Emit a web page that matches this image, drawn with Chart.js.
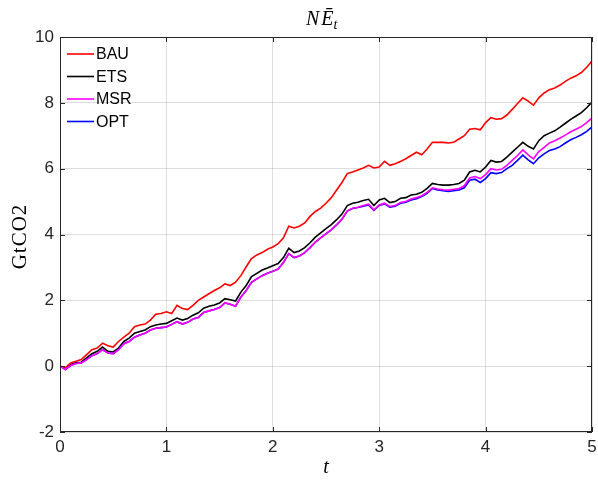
<!DOCTYPE html>
<html>
<head>
<meta charset="utf-8">
<script src="https://cdn.jsdelivr.net/npm/chart.js@4"></script>
<style>
  body { margin: 0; background: #fff; }
  #wrap { width: 598px; height: 480px; }
</style>
</head>
<body>
<div id="wrap"><canvas id="chart" width="598" height="480"></canvas></div>
<script>
// time grid, step 0.05
let tValues = []
for (let i = 0; i <= 100; ++i) tValues.push(+(i * 0.05).toFixed(2))

let seriesNames = ["BAU", "ETS", "MSR", "OPT"]
let seriesColors = ["#ff0000", "#000000", "#ff00ff", "#0000ff"]

let bau = [0.0, -0.05, 0.1, 0.15, 0.2, 0.35, 0.5, 0.55, 0.7, 0.62,
	0.58, 0.75, 0.88, 1.0, 1.2, 1.25, 1.28, 1.4, 1.58, 1.6,
	1.65, 1.6, 1.85, 1.75, 1.72, 1.85, 2.0, 2.1, 2.2, 2.3,
	2.38, 2.5, 2.45, 2.55, 2.75, 3.02, 3.27, 3.38, 3.45, 3.55,
	3.62, 3.72, 3.9, 4.25, 4.2, 4.25, 4.35, 4.55, 4.7, 4.8,
	4.95, 5.12, 5.35, 5.58, 5.85, 5.9, 5.96, 6.02, 6.1, 6.02,
	6.05, 6.22, 6.1, 6.15, 6.22, 6.3, 6.4, 6.5, 6.42, 6.6,
	6.8, 6.8, 6.8, 6.78, 6.8, 6.9, 7.0, 7.2, 7.22, 7.18,
	7.4, 7.55, 7.5, 7.52, 7.63, 7.8, 7.98, 8.15, 8.05, 7.93,
	8.15, 8.3, 8.4, 8.45, 8.54, 8.65, 8.75, 8.82, 8.92, 9.08,
	9.27]

let ets = [0.0, -0.08, 0.05, 0.1, 0.12, 0.25, 0.38, 0.45, 0.58, 0.45,
	0.43, 0.55, 0.75, 0.85, 1.0, 1.05, 1.1, 1.2, 1.25, 1.28,
	1.3, 1.38, 1.46, 1.4, 1.45, 1.55, 1.62, 1.76, 1.82, 1.86,
	1.92, 2.05, 2.02, 1.98, 2.25, 2.45, 2.72, 2.82, 2.92, 2.98,
	3.05, 3.12, 3.3, 3.58, 3.45, 3.5, 3.6, 3.75, 3.92, 4.05,
	4.18, 4.3, 4.45, 4.62, 4.88, 4.95, 4.98, 5.03, 5.07, 4.88,
	5.05, 5.1, 4.97, 5.0, 5.1, 5.12, 5.2, 5.22, 5.28, 5.4,
	5.55, 5.52, 5.5, 5.5, 5.52, 5.55, 5.65, 5.9, 5.95, 5.9,
	6.05, 6.25, 6.2, 6.22, 6.35, 6.5, 6.65, 6.8, 6.68, 6.6,
	6.85, 7.0, 7.08, 7.15, 7.26, 7.38, 7.5, 7.6, 7.7, 7.85,
	8.02]

let msr = [0.0, -0.1, 0.02, 0.08, 0.1, 0.2, 0.32, 0.38, 0.5, 0.4,
	0.38, 0.5, 0.68, 0.75, 0.88, 0.95, 1.0, 1.1, 1.15, 1.17,
	1.19, 1.27, 1.35, 1.28, 1.33, 1.43, 1.48, 1.63, 1.68, 1.72,
	1.78, 1.92, 1.88, 1.82, 2.1, 2.3, 2.55, 2.65, 2.75, 2.82,
	2.88, 2.95, 3.15, 3.42, 3.3, 3.35, 3.45, 3.6, 3.77, 3.9,
	4.03, 4.15, 4.3, 4.47, 4.72, 4.8, 4.83, 4.88, 4.92, 4.75,
	4.9, 4.95, 4.85, 4.88, 4.97, 5.0, 5.08, 5.12, 5.18, 5.28,
	5.42, 5.38, 5.36, 5.35, 5.37, 5.4, 5.48, 5.72, 5.76, 5.7,
	5.82, 6.0, 5.96, 5.98, 6.1, 6.25, 6.4, 6.57, 6.42, 6.3,
	6.52, 6.65, 6.78, 6.85, 6.93, 7.02, 7.12, 7.2, 7.28, 7.4,
	7.54]

let opt = [0.0, -0.1, 0.02, 0.08, 0.1, 0.2, 0.32, 0.38, 0.5, 0.4,
	0.38, 0.5, 0.68, 0.75, 0.88, 0.95, 1.0, 1.1, 1.15, 1.17,
	1.19, 1.27, 1.35, 1.28, 1.33, 1.43, 1.48, 1.63, 1.68, 1.72,
	1.78, 1.92, 1.88, 1.82, 2.1, 2.3, 2.55, 2.65, 2.75, 2.82,
	2.88, 2.95, 3.15, 3.42, 3.3, 3.35, 3.45, 3.6, 3.77, 3.9,
	4.02, 4.14, 4.29, 4.46, 4.71, 4.79, 4.82, 4.86, 4.9, 4.73,
	4.88, 4.93, 4.83, 4.86, 4.95, 4.98, 5.05, 5.09, 5.15, 5.25,
	5.4, 5.35, 5.33, 5.31, 5.33, 5.35, 5.42, 5.65, 5.68, 5.58,
	5.7, 5.88, 5.85, 5.88, 6.0, 6.1, 6.25, 6.41, 6.27, 6.15,
	6.33, 6.45, 6.55, 6.6, 6.67, 6.78, 6.88, 6.95, 7.03, 7.13,
	7.27]

let xTicks = [0, 1, 2, 3, 4, 5]
let yTicks = [-2, 0, 2, 4, 6, 8, 10]

let allSeries = [bau, ets, msr, opt]
let datasets = []
for (let s = 0; s < allSeries.length; ++s) {
	let pts = []
	for (let i = 0; i < tValues.length; ++i) pts.push({x: tValues[i], y: allSeries[s][i]})
	datasets.push({
		label: seriesNames[s],
		data: pts,
		borderColor: seriesColors[s],
		borderWidth: 1.6,
		pointRadius: 0,
		fill: false,
		tension: 0,
		order: s == 2 ? 0 : (s == 3 ? 1 : 2 + s)
	})
}

const axisColor = "#262626"
const sansFont = "'Liberation Sans', Arial, sans-serif"
const serifFont = "'Liberation Serif', 'Times New Roman', serif"

// box, inward ticks, labels, legend
const decorPlugin = {
	id: 'decor',
	afterDatasetsDraw(chart) {
		const ctx = chart.ctx
		const a = chart.chartArea
		const xs = chart.scales.x, ys = chart.scales.y
		ctx.save()
		ctx.strokeStyle = axisColor
		ctx.lineWidth = 1
		ctx.strokeRect(a.left + 0.5, a.top + 0.5, a.right - a.left - 1, a.bottom - a.top - 1)
		ctx.beginPath()
		for (let v of xTicks) {
			let px = Math.round(xs.getPixelForValue(v)) + 0.5
			ctx.moveTo(px, a.bottom); ctx.lineTo(px, a.bottom - 5)
			ctx.moveTo(px, a.top); ctx.lineTo(px, a.top + 5)
		}
		for (let v of yTicks) {
			let py = Math.round(ys.getPixelForValue(v)) + 0.5
			ctx.moveTo(a.left, py); ctx.lineTo(a.left + 5, py)
			ctx.moveTo(a.right, py); ctx.lineTo(a.right - 5, py)
		}
		ctx.stroke()

		// legend
		ctx.font = "16px " + sansFont
		ctx.textBaseline = "middle"
		ctx.textAlign = "left"
		for (let s = 0; s < seriesNames.length; ++s) {
			let y = 54 + s * 22.5
			ctx.strokeStyle = seriesColors[s]
			ctx.lineWidth = 1.6
			ctx.beginPath(); ctx.moveTo(67, y); ctx.lineTo(94, y); ctx.stroke()
			ctx.fillStyle = "#000"
			ctx.fillText(seriesNames[s], 96, y + 1)
		}

		// title N E-bar subscript t
		ctx.fillStyle = "#000"
		ctx.textBaseline = "alphabetic"
		ctx.font = "italic 20px " + serifFont
		let tx = 306, ty = 25
		ctx.fillText("N", tx, ty)
		let w = ctx.measureText("N").width
		ctx.fillText("\u0112", tx + w + 2, ty)
		let w2 = ctx.measureText("\u0112").width
		ctx.font = "italic 14px " + serifFont
		ctx.fillText("t", tx + w + w2 + 2, ty + 4)

		// axis labels
		ctx.font = "italic 20px " + serifFont
		ctx.textAlign = "center"
		ctx.fillText("t", (a.left + a.right) / 2, 473)
		ctx.save()
		ctx.translate(26, (a.top + a.bottom) / 2 + 2)
		ctx.rotate(-Math.PI / 2)
		ctx.font = "21px " + serifFont
		ctx.letterSpacing = "1px"
		ctx.fillText("GtCO2", 0, 0)
		ctx.restore()
		ctx.restore()
	}
}

new Chart(document.getElementById('chart'), {
	type: 'line',
	data: { datasets: datasets },
	options: {
		responsive: false,
		animation: false,
		layout: { padding: { left: 0, right: 6, top: 37, bottom: 0 } },
		plugins: { legend: { display: false }, title: { display: false }, tooltip: { enabled: false } },
		scales: {
			x: {
				type: 'linear', min: 0, max: 5,
				afterFit(scale) { scale.height = 48; scale.paddingRight = 0; scale.paddingLeft = 0 },
				afterBuildTicks(scale) { scale.ticks = xTicks.map(v => ({value: v})) },
				grid: { color: "rgba(0,0,0,0.13)", drawTicks: false },
				border: { display: false },
				ticks: { color: axisColor, font: { family: sansFont, size: 17 }, padding: 5 }
			},
			y: {
				type: 'linear', min: -2, max: 10,
				afterFit(scale) { scale.width = 60 },
				afterBuildTicks(scale) { scale.ticks = yTicks.map(v => ({value: v})) },
				grid: { color: "rgba(0,0,0,0.13)", drawTicks: false },
				border: { display: false },
				ticks: { color: axisColor, font: { family: sansFont, size: 17 }, padding: 6 }
			}
		}
	},
	plugins: [decorPlugin]
});
</script>
</body>
</html>
